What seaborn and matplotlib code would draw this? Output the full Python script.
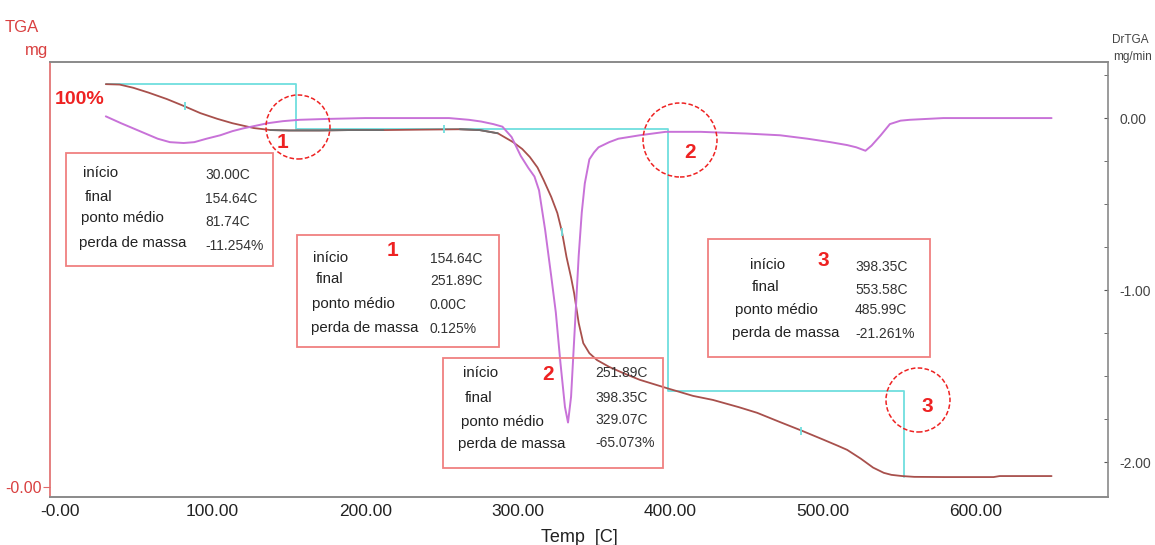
import numpy as np
import matplotlib
matplotlib.use("Agg")
import matplotlib.pyplot as plt
from matplotlib.patches import Rectangle, Ellipse
from matplotlib.ticker import MultipleLocator, FixedLocator, FixedFormatter
import seaborn as sns

sns.set_style("white")
plt.rcParams['font.family'] = ['Liberation Sans', 'DejaVu Sans']

# ---------------- data ----------------
tga_temp = [30, 39, 48, 58, 70, 81, 92, 103, 113, 127, 138, 150, 170, 190, 212, 235, 262,
            275, 287, 297, 303, 308, 313, 317, 322, 326, 329, 332, 335, 337, 340, 343, 347,
            352, 360, 369, 380, 398, 415, 428, 445, 457, 472, 486, 500, 510, 516, 525, 533,
            540, 545, 552, 560, 580, 612, 616, 650]
tga_mass = [100.0, 99.9, 99.1, 97.9, 96.3, 94.6, 92.8, 91.4, 90.3, 89.1, 88.6, 88.5, 88.5,
            88.6, 88.6, 88.7, 88.8, 88.6, 87.8, 85.6, 83.9, 81.9, 79.3, 76.2, 72.0, 68.0,
            63.4, 57.1, 52.0, 48.1, 40.7, 35.7, 33.2, 31.5, 29.8, 28.3, 26.6, 24.5, 22.6,
            21.6, 19.8, 18.4, 16.1, 14.0, 11.8, 10.2, 9.2, 7.0, 4.8, 3.5, 3.0, 2.7, 2.5,
            2.45, 2.45, 2.7, 2.7]

dr_temp = [30, 40, 48, 56, 64, 72, 81, 88, 96, 105, 113, 120, 127, 136, 146, 157, 175, 200,
           230, 255, 268, 276, 284, 290, 296, 302, 307, 311, 314, 318, 322, 325, 328, 331,
           333, 335, 338, 340, 342, 344, 347, 350, 353, 360, 366, 380, 397, 420, 450, 472,
           490, 505, 516, 522, 528, 532, 538, 544, 551, 557, 568, 579, 600, 650]
dr_val = [0.01, -0.03, -0.06, -0.09, -0.12, -0.14, -0.145, -0.14, -0.12, -0.10, -0.076,
          -0.06, -0.047, -0.03, -0.018, -0.01, -0.005, 0.0, 0.0, 0.0, -0.01, -0.02, -0.035,
          -0.05, -0.11, -0.22, -0.29, -0.34, -0.42, -0.65, -0.92, -1.13, -1.42, -1.68,
          -1.77, -1.62, -1.13, -0.80, -0.55, -0.38, -0.24, -0.20, -0.17, -0.14, -0.12,
          -0.10, -0.08, -0.08, -0.09, -0.10, -0.12, -0.14, -0.157, -0.17, -0.19, -0.16,
          -0.10, -0.035, -0.015, -0.01, -0.005, 0.0, 0.0, 0.0]

# analysis steps
step_start = [30.00, 154.64, 251.89, 398.35]
step_end = [154.64, 251.89, 398.35, 553.58]
step_mid = [81.74, 0.00, 329.07, 485.99]
step_loss = [-11.254, 0.125, -65.073, -21.261]
step_ids = ["", "1", "2", "3"]
row_labels = ["início", "final", "ponto médio", "perda de massa"]

x_ticks = [0, 100, 200, 300, 400, 500, 600]
x_ticklabels = ["-0.00", "100.00", "200.00", "300.00", "400.00", "500.00", "600.00"]
dr_ticks = [0.0, -1.0, -2.0]
dr_ticklabels = ["0.00", "-1.00", "-2.00"]

# ---------------- styling ----------------
W, H = 1155, 545
C_TGA = "#a8504c"
C_GREY = "#6e6e6e"
C_DR = "#c872d8"
C_CYAN = "#6fdede"
C_RED = "#ee2222"
C_BOX = "#f08080"


def fx(x):
    return x / W


def fy(y):
    return 1 - y / H


fig = plt.figure(figsize=(W / 100, H / 100), dpi=100)
L, R, B, T = 50, 1108, 497, 62
ax = fig.add_axes([fx(L), fy(B), fx(R - L), (B - T) / H])
ax2 = ax.twinx()

ax.set_xlim(-6.6, 687)
ax.set_ylim(-2.5, 105.5)
ax2.set_ylim(-2.203, 0.326)

# cyan step lines derived from the step table
mass_levels = [100.0]
for d in step_loss:
    mass_levels.append(mass_levels[-1] + d)
sx, sy = [], []
for i in range(len(step_start)):
    sx += [step_start[i], step_end[i], step_end[i]]
    sy += [mass_levels[i], mass_levels[i], mass_levels[i + 1]]
ax.plot(sx, sy, color=C_CYAN, lw=1.3, zorder=2)

# TGA curve
sns.lineplot(x=tga_temp, y=tga_mass, ax=ax, color=C_TGA, lw=1.3, zorder=3,
             sort=False, estimator=None)
tt = np.array(tga_temp, dtype=float)
tm = np.array(tga_mass, dtype=float)
for lo, hi in [(136, 212), (262, 287)]:
    m = (tt >= lo) & (tt <= hi)
    ax.plot(tt[m], tm[m], color=C_GREY, lw=1.3, zorder=4)

# small cyan marks at midpoints
for i, mid in enumerate(step_mid):
    if mid > 0:
        ax.plot([mid], [np.interp(mid, tt, tm)], marker="|", ms=6, mew=1.3,
                color=C_CYAN, zorder=5)
ax.plot([step_start[2]], [mass_levels[2]], marker="|", ms=6, mew=1.3, color=C_CYAN, zorder=5)

# DrTGA curve
sns.lineplot(x=dr_temp, y=dr_val, ax=ax2, color=C_DR, lw=1.4, zorder=3,
             sort=False, estimator=None)

# axes appearance
for a in (ax, ax2):
    for s in a.spines.values():
        s.set_color("#8a8a8a")
        s.set_linewidth(1.2)
ax.spines['left'].set_color("#e06a6a")
ax2.spines['left'].set_visible(False)
ax.spines['right'].set_visible(False)

ax.xaxis.set_major_locator(FixedLocator(x_ticks))
ax.xaxis.set_major_formatter(FixedFormatter(x_ticklabels))
ax.xaxis.set_minor_locator(MultipleLocator(20))
ax.tick_params(axis='x', which='both', direction='in', length=3, color="#555555",
               labelsize=12.5, labelcolor="#222222", pad=5)

ax.yaxis.set_major_locator(FixedLocator([0]))
ax.yaxis.set_major_formatter(FixedFormatter(["-0.00"]))
ax.yaxis.set_minor_locator(FixedLocator([]))
ax.tick_params(axis='y', which='major', direction='out', length=5, color="#e06a6a",
               labelsize=11.5, labelcolor="#d94040", pad=1)

ax2.yaxis.set_major_locator(FixedLocator(dr_ticks))
ax2.yaxis.set_major_formatter(FixedFormatter(dr_ticklabels))
ax2.yaxis.set_minor_locator(MultipleLocator(0.25))
ax2.tick_params(axis='y', which='both', direction='in', length=3, color="#555555",
                labelsize=10, labelcolor="#444444", pad=8)
ax.grid(False)
ax2.grid(False)

ax.set_xlabel("Temp  [C]", fontsize=13, color="#222222", labelpad=7)
ax.set_ylabel("")
ax2.set_ylabel("")

# axis titles
fig.text(fx(22), fy(27), "TGA", color="#d94040", fontsize=12, ha="center", va="center")
fig.text(fx(37), fy(50), "mg", color="#d94040", fontsize=12, ha="center", va="center")
fig.text(fx(1130), fy(40), "DrTGA", color="#444444", fontsize=8.5, ha="center", va="center")
fig.text(fx(1133), fy(57), "mg/min", color="#444444", fontsize=8.5, ha="center", va="center")
fig.text(fx(80), fy(100), "100%", color=C_RED, fontsize=14, fontweight="bold",
         ha="center", va="center")

# info boxes
boxes = [
    dict(rect=(66, 153, 273, 266), lab_x=[83, 85, 81, 79], lab_y=[173, 197, 218, 243],
         val_x=205, val_y=[175, 199, 222, 246], num=None),
    dict(rect=(297, 235, 499, 347), lab_x=[313, 316, 312, 311], lab_y=[258, 279, 304, 328],
         val_x=430, val_y=[259, 281, 305, 329], num=(393, 250)),
    dict(rect=(443, 358, 663, 468), lab_x=[463, 465, 461, 458], lab_y=[373, 398, 422, 444],
         val_x=595, val_y=[373, 398, 420, 443], num=(548, 375)),
    dict(rect=(708, 239, 930, 357), lab_x=[750, 752, 735, 732], lab_y=[265, 287, 310, 333],
         val_x=855, val_y=[267, 290, 310, 334], num=(823, 260)),
]
for i, bx in enumerate(boxes):
    x0, y0, x1, y1 = bx["rect"]
    fig.patches.append(Rectangle((fx(x0), fy(y1)), fx(x1 - x0), (y1 - y0) / H,
                                 transform=fig.transFigure, fill=False,
                                 edgecolor=C_BOX, lw=1.3, zorder=10))
    vals = [f"{step_start[i]:.2f}C", f"{step_end[i]:.2f}C", f"{step_mid[i]:.2f}C",
            f"{step_loss[i]:.3f}%"]
    for j in range(4):
        fig.text(fx(bx["lab_x"][j]), fy(bx["lab_y"][j]), row_labels[j], fontsize=10.8,
                 color="#222222", ha="left", va="center", zorder=11)
        fig.text(fx(bx["val_x"]), fy(bx["val_y"][j]), vals[j], fontsize=10,
                 color="#333333", ha="left", va="center", zorder=11)
    if bx["num"] is not None:
        fig.text(fx(bx["num"][0]), fy(bx["num"][1]), step_ids[i], fontsize=15,
                 fontweight="bold", color=C_RED, ha="center", va="center", zorder=11)

# dashed circles with step numbers
circles = [((298, 127), 32, (283, 142)), ((680, 140), 37, (690, 153)),
           ((918, 400), 32, (927, 407))]
for k, ((cx, cy), r, (nx, ny)) in enumerate(circles):
    fig.patches.append(Ellipse((fx(cx), fy(cy)), 2 * r / W, 2 * r / H,
                               transform=fig.transFigure, fill=False, edgecolor=C_RED,
                               lw=1.1, ls=(0, (3, 1.5)), zorder=12))
    fig.text(fx(nx), fy(ny), step_ids[k + 1], fontsize=15, fontweight="bold",
             color=C_RED, ha="center", va="center", zorder=12)

fig.savefig("out.png", dpi=100)
